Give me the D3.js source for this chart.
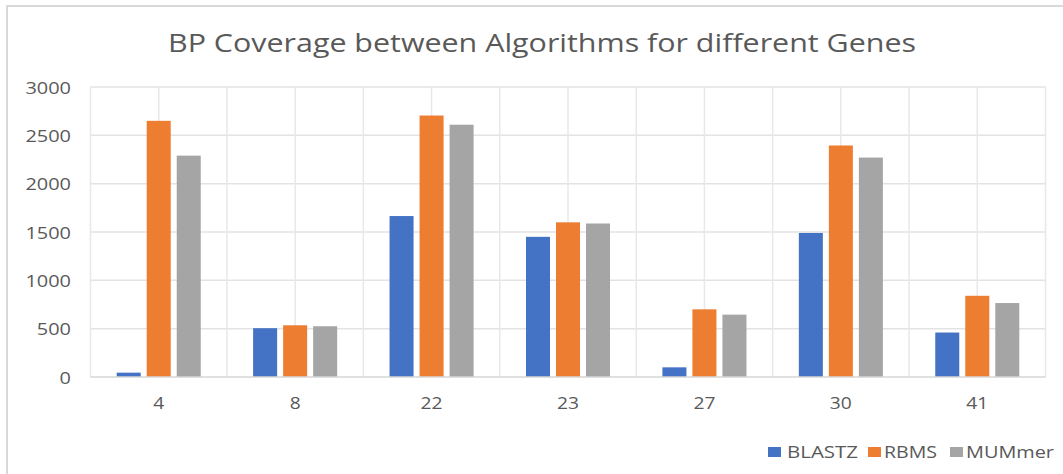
<!DOCTYPE html>
<html>
<head>
<meta charset="utf-8">
<script src="https://cdn.jsdelivr.net/npm/d3@7"></script>
<style>
  html, body { margin: 0; padding: 0; background: #fff; }
  svg { display: block; }
  text { font-family: "Open Sans", "Noto Sans", sans-serif; }
</style>
</head>
<body>
<svg id="chart" width="1063" height="474"></svg>
<script>
const categories = ["4", "8", "22", "23", "27", "30", "41"];
const seriesNames = ["BLASTZ", "RBMS", "MUMmer"];
const blastz = [45, 505, 1665, 1450, 100, 1490, 460];
const rbms   = [2650, 535, 2705, 1600, 700, 2395, 840];
const mummer = [2290, 525, 2610, 1588, 645, 2270, 765];
const yTicks = [0, 500, 1000, 1500, 2000, 2500, 3000];
const colors = ["#4472C4", "#ED7D31", "#A5A5A5"];
const chartTitle = "BP Coverage between Algorithms for different Genes";

(function () {
const seriesValues = [blastz, rbms, mummer];
const svg = d3.select("#chart");

// chart frame
svg.append("rect")
  .attr("x", 7).attr("y", 6).attr("width", 1200).attr("height", 600)
  .attr("fill", "none").attr("stroke", "#d9d9d9").attr("stroke-width", 2);

const pLeft = 90.5, pRight = 1045.5, pTop = 87, pBottom = 377;

const x = d3.scaleBand().domain(categories).range([pLeft, pRight])
  .paddingInner(0.384).paddingOuter(0.192);
const xs = d3.scaleBand().domain(seriesNames).range([0, x.bandwidth()])
  .paddingInner(0.2).paddingOuter(0);
const y = d3.scaleLinear().domain([0, 3000]).range([pBottom, pTop]);

// horizontal gridlines
svg.append("g").selectAll("line").data(yTicks.filter(d => d > 0)).join("line")
  .attr("x1", pLeft).attr("x2", pRight)
  .attr("y1", d => y(d)).attr("y2", d => y(d))
  .attr("stroke", "#e3e3e3").attr("stroke-width", 1.5);

// vertical gridlines at every half category step
const step = x.step();
const vLines = d3.range(0, categories.length * 2 + 1).map(k => pLeft + k * step / 2);
svg.append("g").selectAll("line").data(vLines).join("line")
  .attr("x1", d => d).attr("x2", d => d)
  .attr("y1", pTop).attr("y2", pBottom)
  .attr("stroke", "#e8e8e8").attr("stroke-width", 1.5);

// bars
seriesNames.forEach((s, si) => {
  svg.append("g").selectAll("rect").data(seriesValues[si]).join("rect")
    .attr("x", (d, i) => x(categories[i]) + xs(s))
    .attr("width", xs.bandwidth())
    .attr("y", d => y(d))
    .attr("height", d => pBottom - y(d))
    .attr("fill", colors[si]);
});

// baseline
svg.append("line").attr("x1", pLeft).attr("x2", pRight)
  .attr("y1", pBottom).attr("y2", pBottom)
  .attr("stroke", "#d6d6d6").attr("stroke-width", 1.5);

// y axis labels
const yAxis = d3.axisLeft(y).tickValues(yTicks).tickFormat(d3.format("d"))
  .tickSize(0).tickPadding(0);
const yg = svg.append("g").attr("transform", "translate(71,0)").call(yAxis);
yg.select(".domain").remove();
yg.selectAll("text")
  .attr("font-size", 17).attr("fill", "#595959")
  .attr("font-family", "Open Sans, sans-serif")
  .attr("dy", "0.36em")
  .attr("textLength", d => String(d).length * 11.4)
  .attr("lengthAdjust", "spacingAndGlyphs");

// x axis labels
const xAxis = d3.axisBottom(x).tickSize(0).tickPadding(0);
const xg = svg.append("g").attr("transform", "translate(0,397)").call(xAxis);
xg.select(".domain").remove();
xg.selectAll("text")
  .attr("font-size", 17).attr("fill", "#595959")
  .attr("font-family", "Open Sans, sans-serif")
  .attr("dy", "0.72em")
  .attr("textLength", d => String(d).length * 11)
  .attr("lengthAdjust", "spacingAndGlyphs");

// title
svg.append("text").attr("x", 168).attr("y", 52)
  .attr("font-size", 25).attr("fill", "#595959")
  .attr("textLength", 748).attr("lengthAdjust", "spacingAndGlyphs")
  .text(chartTitle);

// legend
const legendPos = [
  { rx: 768, tx: 787, tw: 71 },
  { rx: 868, tx: 884, tw: 53 },
  { rx: 950, tx: 966, tw: 88 }
];
const lg = svg.append("g");
seriesNames.forEach((s, i) => {
  lg.append("rect").attr("x", legendPos[i].rx).attr("y", 447)
    .attr("width", 13).attr("height", 10).attr("fill", colors[i]);
  lg.append("text").attr("x", legendPos[i].tx).attr("y", 458)
    .attr("font-size", 16).attr("fill", "#595959")
    .attr("textLength", legendPos[i].tw).attr("lengthAdjust", "spacingAndGlyphs")
    .text(s);
});
})();
</script>
</body>
</html>
